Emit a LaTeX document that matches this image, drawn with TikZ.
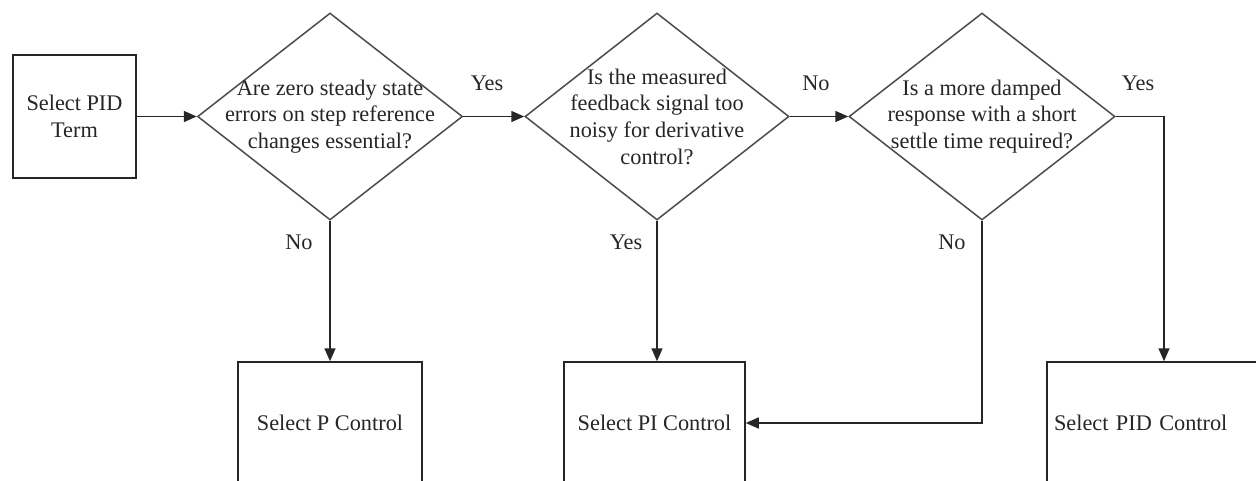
\documentclass[tikz,border=0pt]{standalone}
\usepackage{fontspec}
\setmainfont{Liberation Serif}
\usetikzlibrary{shapes.geometric,arrows.meta}
\begin{document}
\begin{tikzpicture}[x=1pt,y=-1pt,
  every node/.style={font=\fontsize{22.3}{26.7}\selectfont, text=black!85},
  boxnode/.style={draw=black!85, line width=1.5pt, rectangle, inner sep=0pt},
  decision/.style={draw=black!70, line width=1.5pt, diamond, inner sep=0pt},
  qtext/.style={align=center, inner sep=0pt},
  lbl/.style={inner sep=0pt},
  conn/.style={draw=black!85, line width=1.5pt, -{Triangle[length=13pt,width=11pt]}},
  ]
\useasboundingbox (0,0) rectangle (1256,480);
\clip (0,0) rectangle (1256,480);
\fill[white] (0,0) rectangle (1256,480);

\node[boxnode, minimum width=123, minimum height=123, align=center] (start) at (74.5,116.5) {Select PID\\Term};

\node[decision, minimum width=265, minimum height=207] (d1) at (330,116.5) {};
\node[qtext] (t1) at (d1.center) {Are zero steady state\\errors on step reference\\changes essential?};

\node[decision, minimum width=264, minimum height=207] (d2) at (657,116.5) {};
\node[qtext] (t2) at (d2.center) {Is the measured\\feedback signal too\\noisy for derivative\\control?};

\node[decision, minimum width=266, minimum height=207] (d3) at (982,116.5) {};
\node[qtext] (t3) at (d3.center) {Is a more damped\\response with a short\\settle time required?};

\node[boxnode, minimum width=184, minimum height=122] (p) at (330,423) {Select P Control};
\node[boxnode, minimum width=181, minimum height=122] (pi) at (654.5,423) {Select PI Control};
\node[boxnode, minimum width=223, minimum height=122, text width=209, align=left] (pid) at (1158.5,423) {Select PID Control};

\coordinate (c3) at (1164,116.5);
\coordinate (c4) at (d3.south |- pi.east);

\draw[conn] (start.east) -- (d1.west);
\draw[conn] (d1.east) -- (d2.west);
\draw[conn] (d2.east) -- (d3.west);
\draw[conn] (d3.east) -- (c3) -- (c3 |- pid.north);
\draw[conn] (d1.south) -- (d1.south |- p.north);
\draw[conn] (d2.south) -- (d2.south |- pi.north);
\draw[conn] (d3.south) -- (c4) -- (pi.east);

\node[lbl] (l1) at (487,83) {Yes};
\node[lbl] (l2) at (816,83) {No};
\node[lbl] (l3) at (1138,83) {Yes};
\node[lbl] (l4) at (299,242) {No};
\node[lbl] (l5) at (626,242) {Yes};
\node[lbl] (l6) at (952,242) {No};
\end{tikzpicture}
\end{document}
